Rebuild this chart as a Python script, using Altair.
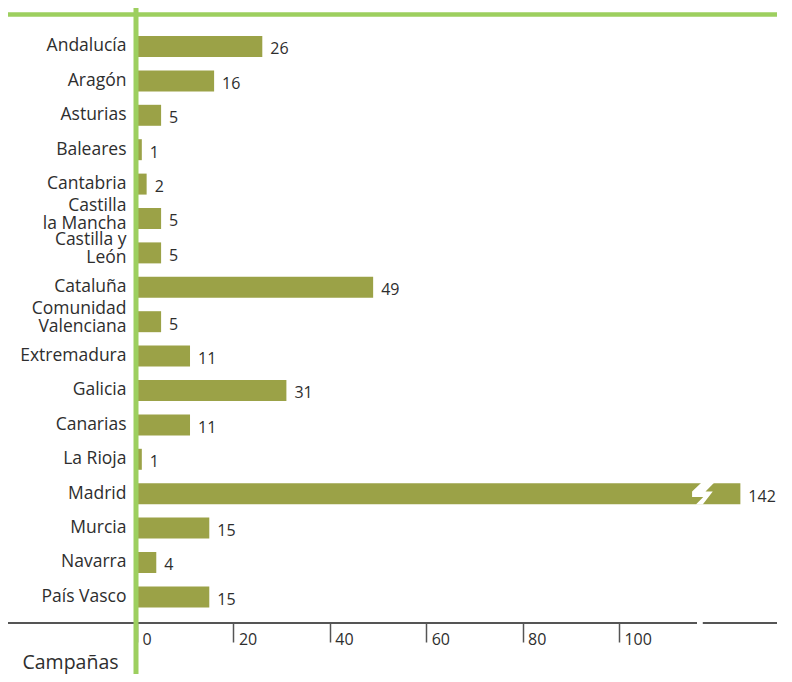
import altair as alt
import pandas as pd

# ---- data ----
regions = ["Andalucía", "Aragón", "Asturias", "Baleares", "Cantabria",
           "Castilla|la Mancha", "Castilla y|León", "Cataluña",
           "Comunidad|Valenciana", "Extremadura", "Galicia", "Canarias",
           "La Rioja", "Madrid", "Murcia", "Navarra", "País Vasco"]
campaigns = [26, 16, 5, 1, 2, 5, 5, 49, 5, 11, 31, 11, 1, 142, 15, 4, 15]
tick_values = [0, 20, 40, 60, 80, 100]

# ---- axis break settings ----
AXIS_MAX = 132.8       # right end of the axis
BREAK_CAP = 125.2      # drawn length of bars beyond the break
BREAK_MARK = 117.5     # position of the break symbol
AXIS_SEGMENTS = [(-26.8, 116.2), (117.4, AXIS_MAX)]

BAR = "#9BA247"
GREEN = "#9DCF5F"
TEXT = "#2e2e2e"
FONT = "Open Sans"

W, H = 640, 615

df = pd.DataFrame({
    "region": regions,
    "value": campaigns,
    "display": [min(v, BREAK_CAP) for v in campaigns],
})
breaks = pd.DataFrame({
    "region": [r for r, v in zip(regions, campaigns) if v > BREAK_CAP],
    "pos": [BREAK_MARK for v in campaigns if v > BREAK_CAP],
})
segs = pd.DataFrame({"region": [regions[-1]] * len(AXIS_SEGMENTS),
                     "x": [a for a, b in AXIS_SEGMENTS],
                     "x2": [b for a, b in AXIS_SEGMENTS]})

xscale = alt.Scale(domain=[0, AXIS_MAX], nice=False, zero=False)
yscale = alt.Scale(domain=regions, paddingInner=0.39, paddingOuter=0.634, align=0.642)

x_axis = alt.Axis(values=tick_values, domain=False, grid=False,
                  tickSize=19, tickColor="#555555", tickWidth=1.5,
                  labelAlign="left", labelOffset=5, labelBaseline="middle",
                  labelPadding=-3, labelFontSize=16,
                  labelColor=TEXT, labelFont=FONT, labelFlush=False,
                  labelOverlap=False,
                  title="Campañas", titleX=-115, titleY=45,
                  titleAlign="left", titleBaseline="alphabetic",
                  titleFontSize=19.5, titleFontWeight="normal",
                  titleColor=TEXT, titleFont=FONT)
y_axis = alt.Axis(title=None, ticks=False, domain=False, grid=False,
                  labelExpr="split(datum.label, '|')",
                  labelAlign="right", labelBaseline="middle",
                  labelOffset={"condition": {"test": "indexof(datum.value, '|') >= 0",
                                             "value": -12.5},
                               "value": 0},
                  labelPadding=11, labelFontSize=17.5, labelLineHeight=18,
                  labelColor=TEXT, labelFont=FONT)


def X(field):
    return alt.X(field, scale=xscale, axis=x_axis)


Y = alt.Y("region:N", sort=regions, scale=yscale, axis=y_axis)

bars = alt.Chart(df).mark_bar(color=BAR).encode(x=X("display:Q"), y=Y)

labels = alt.Chart(df).mark_text(align="left", baseline="middle", dx=8, dy=3,
                                 fontSize=16, color=TEXT, font=FONT).encode(
    x=X("display:Q"), y=Y, text="value:Q")

BOLT = ("M -0.2,-0.95 L 0.95,-0.95 L 0.2,-0.2 L 0.85,-0.2 L -0.05,0.97 "
        "L -0.66,0.97 L 0,0.3 L -1,0.3 L -1,-0.2 Z")
bolt = alt.Chart(breaks).mark_point(
    shape=BOLT, filled=True, color="white", opacity=1, size=500,
    strokeWidth=0).encode(x=X("pos:Q"), y=Y)

axis_line = alt.Chart(segs).mark_rule(color="#555555", strokeWidth=2).encode(
    x=X("x:Q"), x2="x2:Q", y=alt.value(H))

top_line = alt.Chart(df.head(1)).mark_rule(color=GREEN, strokeWidth=4.5).encode(
    x=alt.value(-129), x2=alt.value(W), y=alt.value(6.5))

v_line = alt.Chart(df.head(1)).mark_rule(color=GREEN, strokeWidth=5).encode(
    x=alt.value(-1), y=alt.value(0), y2=alt.value(H + 51))

chart = alt.layer(bars, labels, bolt, axis_line, top_line, v_line).properties(
    width=W, height=H,
    autosize=alt.AutoSizeParams(type="none"),
    padding={"left": 129, "top": 0, "right": 0, "bottom": 51},
    background="white",
).configure_view(stroke=None)

chart.save("out.html", embed_options={"renderer": "svg", "actions": False})
